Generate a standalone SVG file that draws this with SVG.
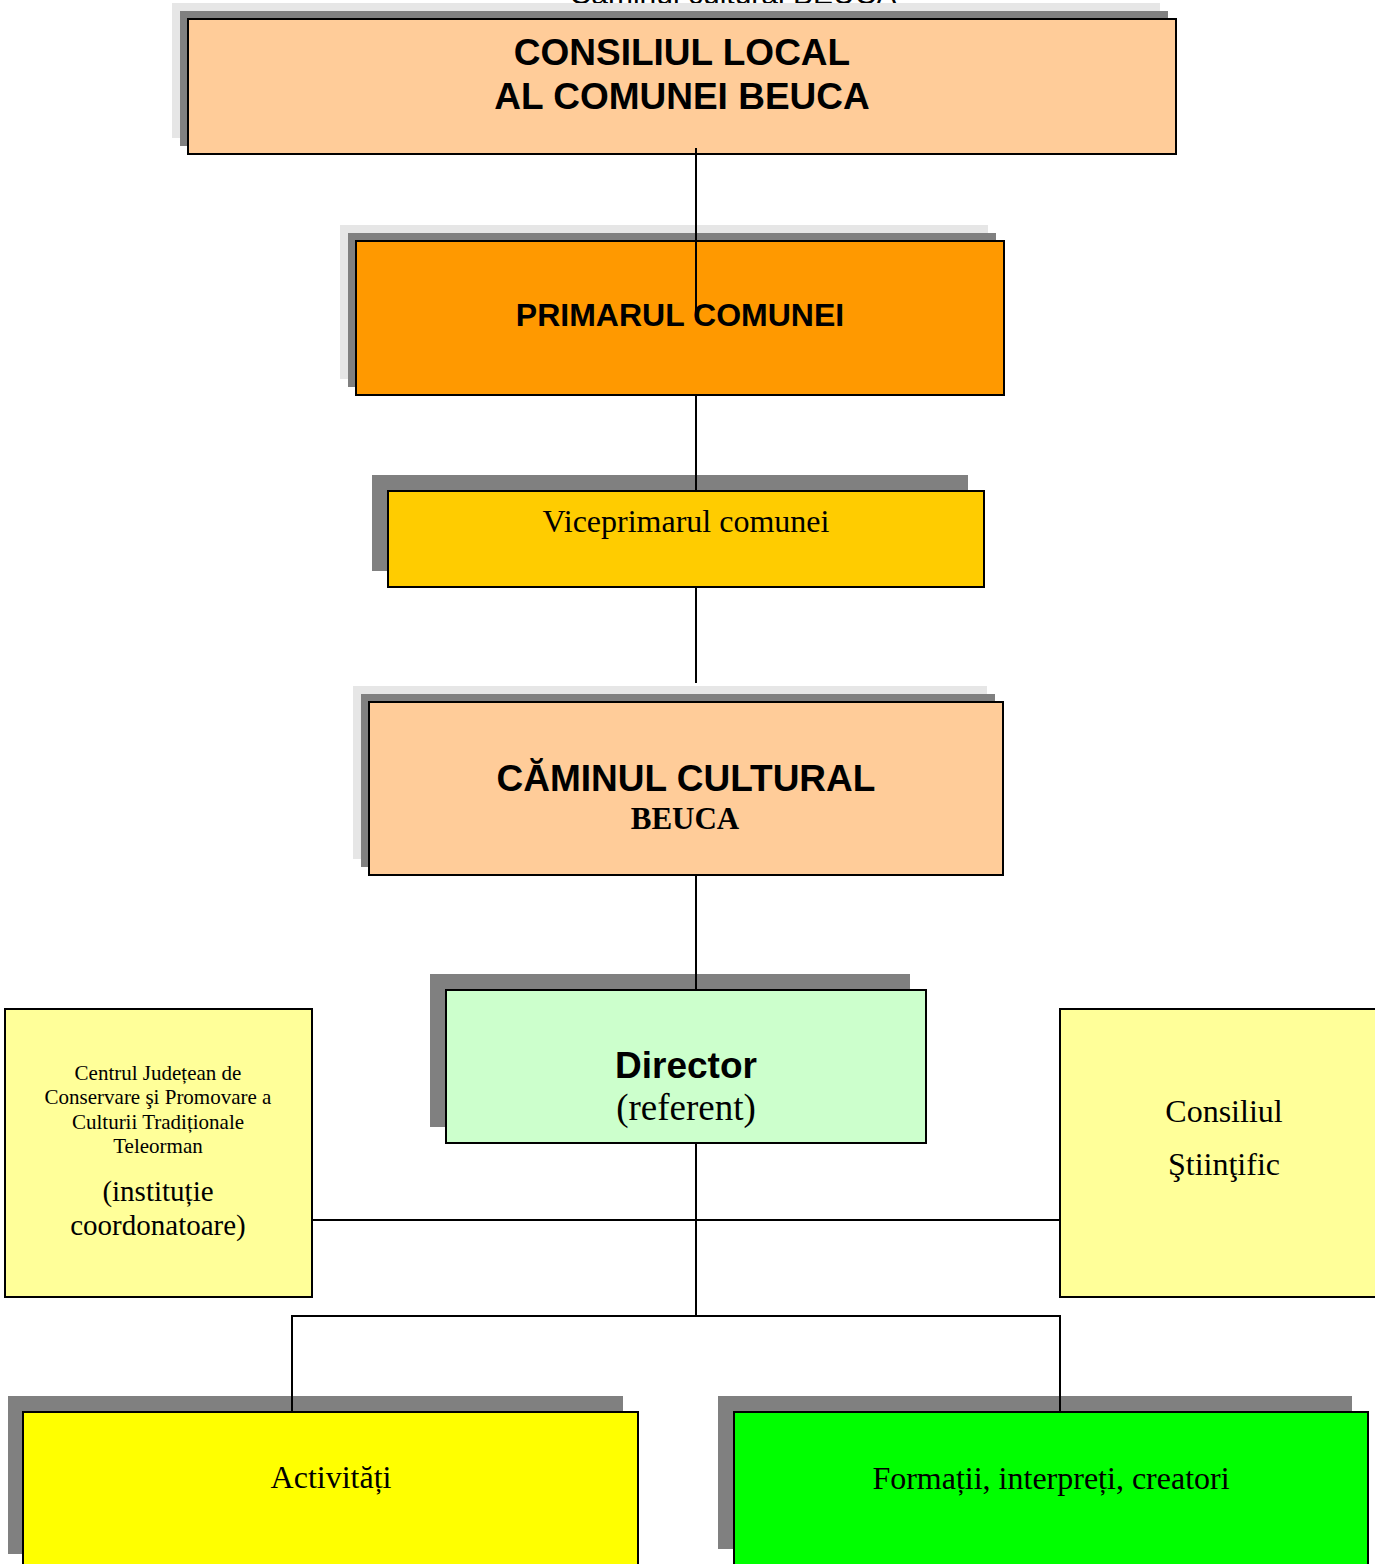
<svg xmlns="http://www.w3.org/2000/svg" width="1375" height="1564" viewBox="0 0 1375 1564">
<style>
.box{stroke:#000;stroke-width:2}
.sh{fill:#808080}
.lt{fill:#e6e6e6}
.sans{font-family:"Liberation Sans",Arial,sans-serif;font-weight:bold;text-anchor:middle;fill:#000}
.serif{font-family:"Liberation Serif","Times New Roman",serif;text-anchor:middle;fill:#000}
.ln{stroke:#000;stroke-width:2;fill:none}
</style>
<rect width="1375" height="1564" fill="#fff"/>
<text x="733" y="4" font-family="Liberation Sans, Arial, sans-serif" font-size="30" text-anchor="middle" fill="#000">Căminul cultural BEUCA</text>

<g id="consiliul-local">
<rect class="lt" x="172" y="3" width="988" height="135"/>
<rect class="sh" x="180" y="11" width="988" height="135"/>
<rect class="box" x="188" y="19" width="988" height="135" fill="#ffcc99"/>
<text class="sans" x="682" y="65" font-size="37">CONSILIUL LOCAL</text>
<text class="sans" x="682" y="109" font-size="37">AL COMUNEI BEUCA</text>
</g>

<g id="primarul">
<rect class="lt" x="340" y="225" width="648" height="154"/>
<rect class="sh" x="348" y="233" width="648" height="154"/>
<rect class="box" x="356" y="241" width="648" height="154" fill="#ff9900"/>
<text class="sans" x="680" y="326" font-size="32">PRIMARUL COMUNEI</text>
</g>

<g id="viceprimarul">
<rect class="sh" x="372" y="475" width="596" height="96"/>
<rect class="box" x="388" y="491" width="596" height="96" fill="#ffcc00"/>
<text class="serif" x="686" y="532" font-size="32">Viceprimarul comunei</text>
</g>

<g id="caminul">
<rect class="lt" x="353" y="686" width="634" height="173"/>
<rect class="sh" x="361" y="694" width="634" height="173"/>
<rect class="box" x="369" y="702" width="634" height="173" fill="#ffcc99"/>
<text class="sans" x="686" y="791" font-size="37">CĂMINUL CULTURAL</text>
<text class="serif" x="685" y="829" font-size="31" font-weight="bold">BEUCA</text>
</g>

<g id="director">
<rect class="sh" x="430" y="974" width="480" height="153"/>
<rect class="box" x="446" y="990" width="480" height="153" fill="#ccffcc"/>
<text class="sans" x="686" y="1078" font-size="37">Director</text>
<text class="serif" x="686" y="1120" font-size="37">(referent)</text>
</g>

<g id="centrul-judetean">
<rect class="box" x="5" y="1009" width="307" height="288" fill="#ffff99"/>
<text class="serif" x="158" y="1080" font-size="21">Centrul Județean de</text>
<text class="serif" x="158" y="1104" font-size="21">Conservare şi Promovare a</text>
<text class="serif" x="158" y="1129" font-size="21">Culturii Tradiționale</text>
<text class="serif" x="158" y="1153" font-size="21">Teleorman</text>
<text class="serif" x="158" y="1201" font-size="29">(instituție</text>
<text class="serif" x="158" y="1235" font-size="29">coordonatoare)</text>
</g>

<g id="consiliul-stiintific">
<rect class="box" x="1060" y="1009" width="320" height="288" fill="#ffff99"/>
<text class="serif" x="1224" y="1122" font-size="32">Consiliul</text>
<text class="serif" x="1224" y="1175" font-size="32">Ştiinţific</text>
</g>

<g id="activitati">
<rect class="sh" x="8" y="1396" width="615" height="158"/>
<rect class="box" x="23" y="1412" width="615" height="160" fill="#ffff00"/>
<text class="serif" x="331" y="1488" font-size="32">Activități</text>
</g>

<g id="formatii">
<rect class="sh" x="718" y="1396" width="634" height="153"/>
<rect class="box" x="734" y="1412" width="634" height="160" fill="#00ff00"/>
<text class="serif" x="1051" y="1489" font-size="32">Formații, interpreți, creatori</text>
</g>

<g id="connectors">
<line class="ln" x1="696" y1="148" x2="696" y2="315"/>
<line class="ln" x1="696" y1="395" x2="696" y2="491"/>
<line class="ln" x1="696" y1="587" x2="696" y2="683"/>
<line class="ln" x1="696" y1="875" x2="696" y2="990"/>
<line class="ln" x1="696" y1="1143" x2="696" y2="1316"/>
<line class="ln" x1="312" y1="1220" x2="1060" y2="1220"/>
<polyline class="ln" points="292,1412 292,1316 1060,1316 1060,1412"/>
</g>
</svg>
